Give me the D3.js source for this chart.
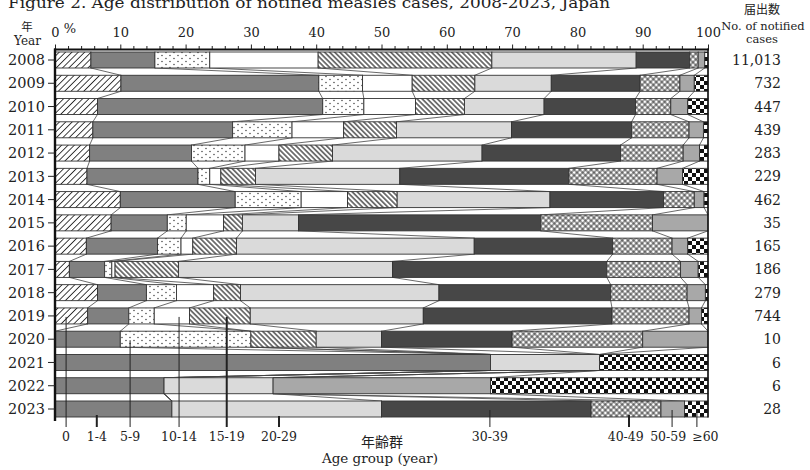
<!DOCTYPE html>
<html>
<head>
<meta charset="utf-8">
<script src="https://cdn.jsdelivr.net/npm/d3@7"></script>
<style>
  body { margin: 0; background: #fff; }
  svg { display: block; }
  text { font-family: "DejaVu Serif", "Liberation Serif", serif; fill: #222; }
</style>
</head>
<body>
<svg id="chart" width="810" height="470"></svg>
<script>
const years = [2008, 2009, 2010, 2011, 2012, 2013, 2014, 2015, 2016, 2017, 2018, 2019, 2020, 2021, 2022, 2023];
const notifiedCases = ["11,013", "732", "447", "439", "283", "229", "462", "35", "165", "186", "279", "744", "10", "6", "6", "28"];
const ageGroups = ["0", "1-4", "5-9", "10-14", "15-19", "20-29", "30-39", "40-49", "50-59", "≥60"];
const percentTicks = d3.range(0, 101, 2);

// Share of notified cases (%) by age group, one value per year 2008–2023
const pctAge0     = [5.5, 10.1, 6.5, 5.8, 5.3, 4.9, 10.0, 8.6, 4.8, 2.2, 6.5, 5.0, 0, 0, 0, 0];
const pctAge1to4  = [9.8, 30.3, 34.5, 21.4, 15.6, 17.0, 17.6, 8.6, 10.9, 5.4, 7.5, 6.3, 10, 66.7, 16.7, 17.9];
const pctAge5to9  = [8.4, 6.7, 6.3, 9.1, 8.2, 1.8, 10.1, 2.9, 3.6, 1.1, 4.6, 3.9, 20, 0, 0, 0];
const pctAge10to14 = [16.6, 7.6, 7.9, 7.9, 5.2, 1.7, 7.1, 5.7, 1.8, 0.5, 5.7, 5.4, 0, 0, 0, 0];
const pctAge15to19 = [26.6, 9.6, 7.5, 8.1, 8.2, 5.3, 7.6, 2.9, 6.7, 9.7, 4.1, 9.3, 10, 0, 0, 0];
const pctAge20to29 = [22.1, 11.7, 12.2, 17.6, 22.9, 22.1, 23.4, 8.6, 36.4, 32.8, 30.4, 26.5, 10, 16.7, 16.7, 32.1];
const pctAge30to39 = [8.2, 13.6, 14.0, 18.4, 21.2, 25.9, 17.4, 37.1, 21.2, 32.8, 26.3, 28.9, 20, 0, 0, 32.1];
const pctAge40to49 = [1.3, 6.1, 5.4, 8.8, 9.6, 13.5, 4.7, 17.1, 9.1, 11.3, 11.7, 11.8, 20, 0, 0, 10.7];
const pctAge50to59 = [1.0, 2.2, 2.6, 2.2, 2.5, 3.9, 1.5, 8.5, 2.4, 2.7, 2.8, 1.9, 10, 0, 33.3, 3.6];
const pctAge60up   = [0.5, 2.1, 3.1, 0.7, 1.3, 3.9, 0.6, 0, 3.1, 1.5, 0.4, 1.0, 0, 16.6, 33.3, 3.6];

const shareColumns = [pctAge0, pctAge1to4, pctAge5to9, pctAge10to14, pctAge15to19,
                      pctAge20to29, pctAge30to39, pctAge40to49, pctAge50to59, pctAge60up];

const rows = years.map((year, i) => {
  const r = { year };
  ageGroups.forEach((g, k) => { r[g] = shareColumns[k][i]; });
  return r;
});

const svg = d3.select("#chart");
const x = d3.scaleLinear().domain([0, 100]).range([55, 708]);
const y = d3.scalePoint().domain(years).range([60, 409]);
const barH = 16;

// ---- fill patterns -------------------------------------------------------
const defs = svg.append("defs");
function linePattern(id, size, angle, width, cross) {
  const p = defs.append("pattern").attr("id", id).attr("patternUnits", "userSpaceOnUse")
    .attr("width", size).attr("height", size).attr("patternTransform", `rotate(${angle})`);
  p.append("rect").attr("width", size).attr("height", size).attr("fill", "#fff");
  p.append("line").attr("x1", size / 2).attr("x2", size / 2).attr("y1", 0).attr("y2", size)
    .attr("stroke", "#111").attr("stroke-width", width);
  if (cross) {
    p.append("line").attr("y1", size / 2).attr("y2", size / 2).attr("x1", 0).attr("x2", size)
      .attr("stroke", "#111").attr("stroke-width", width);
  }
}
linePattern("hatchUp", 4.5, 45, 0.8, false);
linePattern("hatchDown", 3.6, -45, 1.1, false);
linePattern("cross", 4.0, 45, 0.8, true);

const dots = defs.append("pattern").attr("id", "dots").attr("patternUnits", "userSpaceOnUse")
  .attr("width", 8).attr("height", 6);
dots.append("rect").attr("width", 8).attr("height", 6).attr("fill", "#fff");
dots.append("circle").attr("cx", 2).attr("cy", 1.5).attr("r", 0.65).attr("fill", "#222");
dots.append("circle").attr("cx", 6).attr("cy", 4.5).attr("r", 0.65).attr("fill", "#222");

const checker = defs.append("pattern").attr("id", "checker").attr("patternUnits", "userSpaceOnUse")
  .attr("width", 8).attr("height", 8).attr("y", 1);
checker.append("rect").attr("width", 8).attr("height", 8).attr("fill", "#fff");
checker.append("rect").attr("width", 4).attr("height", 4).attr("fill", "#111");
checker.append("rect").attr("x", 4).attr("y", 4).attr("width", 4).attr("height", 4).attr("fill", "#111");

const fills = ["url(#hatchUp)", "#808080", "url(#dots)", "#ffffff", "url(#hatchDown)",
               "#dadada", "#474747", "url(#cross)", "#a8a8a8", "url(#checker)"];

// ---- stacked shares ------------------------------------------------------
const series = d3.stack().keys(ageGroups)(rows);
const bounds = years.map((_, i) => [0].concat(series.map(s => s[i][1])));

// connector lines between consecutive bars
const links = [];
for (let i = 0; i < years.length - 1; i++) {
  for (let k = 0; k < bounds[i].length; k++) {
    links.push({ x1: bounds[i][k], x2: bounds[i + 1][k], y1: years[i], y2: years[i + 1] });
  }
}
svg.append("g").selectAll("line").data(links).join("line")
  .attr("x1", d => x(d.x1)).attr("x2", d => x(d.x2))
  .attr("y1", d => y(d.y1) + barH / 2).attr("y2", d => y(d.y2) - barH / 2)
  .attr("stroke", "#444").attr("stroke-width", 0.8);

// bar segments
svg.append("g").selectAll("g").data(series).join("g")
  .attr("fill", (d, k) => fills[k])
  .selectAll("rect").data(d => d.filter(v => v[1] - v[0] > 0)).join("rect")
  .attr("x", d => x(d[0])).attr("width", d => x(d[1]) - x(d[0]))
  .attr("y", d => y(d.data.year) - barH / 2).attr("height", barH)
  .attr("stroke", "#333").attr("stroke-width", 0.9);

// ---- age group labels with leader lines ----------------------------------
const leaders = [
  { g: "0",     at: 1.7,  from: 2019, w: 1.0 },
  { g: "1-4",   at: 6.4,  from: 2023, w: 2.0, start: 6 },
  { g: "5-9",   at: 11.5, from: 2020, w: 1.0 },
  { g: "10-14", at: 19.0, from: 2019, w: 1.0 },
  { g: "15-19", at: 26.3, from: 2019, w: 2.0 },
  { g: "20-29", at: 34.3, from: 2023, w: 2.0, start: 7 },
  { g: "30-39", at: 66.6, from: 2023, w: 1.0 },
  { g: "40-49", at: 87.9, from: 2023, w: 2.0, start: 6, label: 87.4 },
  { g: "50-59", at: 94.5, from: 2023, w: 1.0, label: 93.9 },
  { g: "≥60",   at: 98.3, from: 2023, w: 1.0, label: 99.6 }
];
svg.append("g").selectAll("line").data(leaders).join("line")
  .attr("x1", d => x(d.at)).attr("x2", d => x(d.at))
  .attr("y1", d => y(d.from) + (d.start || 1)).attr("y2", 427)
  .attr("stroke", "#222").attr("stroke-width", d => d.w);
svg.append("g").selectAll("text").data(leaders).join("text")
  .attr("x", d => x(d.label !== undefined ? d.label : d.at)).attr("y", 441)
  .attr("text-anchor", "middle").attr("font-size", 12.5).text(d => d.g);

// ---- axes ----------------------------------------------------------------
const topAxis = svg.append("g").attr("transform", "translate(0,49.5)")
  .call(d3.axisTop(x).tickValues(percentTicks).tickSize(4).tickPadding(9)
    .tickFormat(d => d % 10 === 0 ? d : ""));
topAxis.select(".domain").remove();
topAxis.selectAll(".tick line").attr("stroke", "#222").attr("stroke-width", 1)
  .attr("y2", d => d % 10 === 0 ? -5 : -3.5);
topAxis.selectAll(".tick text").attr("font-size", 13).attr("fill", "#222")
  .style("font-family", "DejaVu Serif, serif");
svg.append("line").attr("x1", x(0) - 1).attr("x2", x(100) + 1).attr("y1", 49.5).attr("y2", 49.5)
  .attr("stroke", "#111").attr("stroke-width", 2.2);
svg.append("line").attr("x1", x(0)).attr("x2", x(0)).attr("y1", 48.5).attr("y2", 421)
  .attr("stroke", "#111").attr("stroke-width", 2.4);
svg.append("line").attr("x1", x(100)).attr("x2", x(100)).attr("y1", 48.5).attr("y2", 417.5)
  .attr("stroke", "#111").attr("stroke-width", 1.5);
svg.append("text").attr("x", x(0) + 15).attr("y", 33).attr("text-anchor", "middle")
  .attr("font-size", 13).text("%");

// year labels and ticks
const yearAxis = svg.append("g");
yearAxis.selectAll("line").data(years).join("line")
  .attr("x1", x(0) - 7).attr("x2", x(0)).attr("y1", d => y(d)).attr("y2", d => y(d))
  .attr("stroke", "#222").attr("stroke-width", 1);
yearAxis.selectAll("text").data(years).join("text")
  .attr("x", 45).attr("y", d => y(d)).attr("dy", "0.36em").attr("text-anchor", "end")
  .attr("font-size", 14.5).text(d => d);

// notified counts
svg.append("g").selectAll("text").data(years).join("text")
  .attr("x", 781).attr("y", d => y(d)).attr("dy", "0.36em").attr("text-anchor", "end")
  .attr("font-size", 14).text((d, i) => notifiedCases[i]);

// ---- titles --------------------------------------------------------------
svg.append("text").attr("x", 8).attr("y", 8).attr("font-size", 15)
  .attr("textLength", 602).attr("lengthAdjust", "spacingAndGlyphs")
  .text("Figure 2. Age distribution of notified measles cases, 2008-2023, Japan");
svg.append("text").attr("x", 27).attr("y", 30.5).attr("text-anchor", "middle")
  .attr("font-size", 11.5).style("font-family", "Noto Sans CJK JP, sans-serif").text("年");
svg.append("text").attr("x", 27.5).attr("y", 44.5).attr("text-anchor", "middle")
  .attr("font-size", 12).text("Year");
svg.append("text").attr("x", 762).attr("y", 14).attr("text-anchor", "middle")
  .attr("font-size", 12).style("font-family", "Noto Sans CJK JP, sans-serif").text("届出数");
svg.append("text").attr("x", 763).attr("y", 30).attr("text-anchor", "middle")
  .attr("font-size", 11.5).text("No. of notified");
svg.append("text").attr("x", 762).attr("y", 43).attr("text-anchor", "middle")
  .attr("font-size", 11.5).text("cases");
svg.append("text").attr("x", 382).attr("y", 447).attr("text-anchor", "middle")
  .attr("font-size", 14).style("font-family", "Noto Sans CJK JP, sans-serif").text("年齢群");
svg.append("text").attr("x", 380).attr("y", 463).attr("text-anchor", "middle")
  .attr("font-size", 13.5).text("Age group (year)");
</script>
</body>
</html>
